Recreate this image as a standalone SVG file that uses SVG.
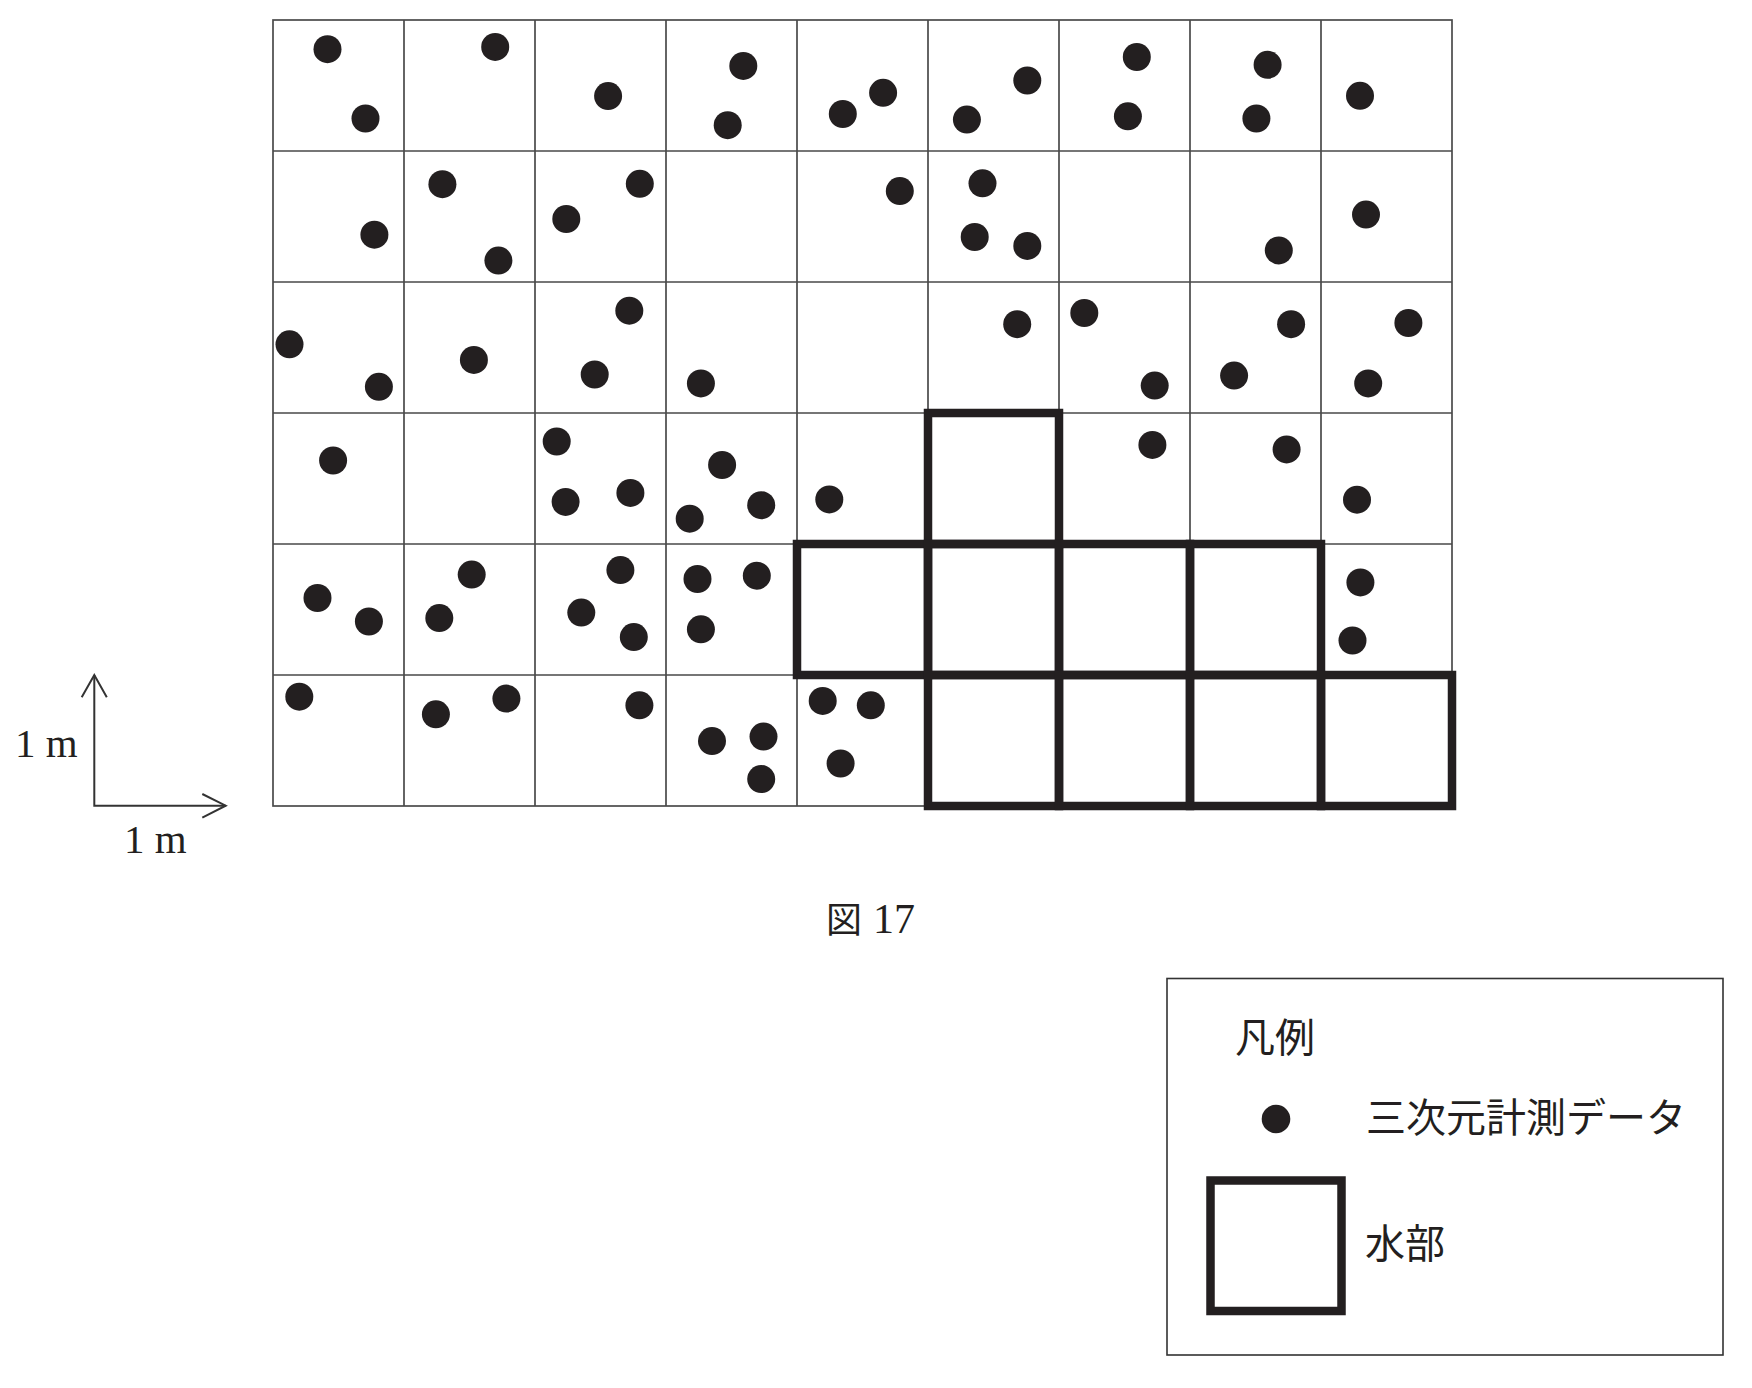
<svg xmlns="http://www.w3.org/2000/svg" width="1752" height="1388" viewBox="0 0 1752 1388">
<style>
.grid{stroke:#4a4a4a;stroke-width:1.7;fill:none}
.water{stroke:#231f20;stroke-width:8.5;fill:none;stroke-linejoin:miter}
.dot{fill:#231f20}
.axis{stroke:#333;stroke-width:2;fill:none}
.serif{font-family:"Liberation Serif","Noto Sans CJK JP",serif;fill:#231f20}
.cjk{font-family:"Noto Sans CJK JP",sans-serif;fill:#231f20;font-size:40px}
</style>
<rect width="1752" height="1388" fill="#fff"/>
<g id="grid" class="grid">
<rect x="273" y="20" width="1179" height="786"/>
<path d="M404 20V806M535 20V806M666 20V806M797 20V806M928 20V806M1059 20V806M1190 20V806M1321 20V806"/>
<path d="M273 151H1452M273 282H1452M273 413H1452M273 544H1452M273 675H1452"/>
</g>
<g id="water-cells" class="water">
<rect x="928" y="413" width="131" height="131"/>
<rect x="797" y="544" width="131" height="131"/>
<rect x="928" y="544" width="131" height="131"/>
<rect x="1059" y="544" width="131" height="131"/>
<rect x="1190" y="544" width="131" height="131"/>
<rect x="928" y="675" width="131" height="131"/>
<rect x="1059" y="675" width="131" height="131"/>
<rect x="1190" y="675" width="131" height="131"/>
<rect x="1321" y="675" width="131" height="131"/>
</g>
<g id="points" class="dot">
<circle cx="327.5" cy="49.2" r="14"/><circle cx="365.5" cy="118.5" r="14"/><circle cx="495.2" cy="46.9" r="14"/><circle cx="608.1" cy="96.1" r="14"/><circle cx="743.3" cy="65.9" r="14"/><circle cx="727.7" cy="125.2" r="14"/><circle cx="842.8" cy="114" r="14"/><circle cx="883.1" cy="92.8" r="14"/><circle cx="966.9" cy="119.6" r="14"/><circle cx="1027.3" cy="80.5" r="14"/><circle cx="1136.8" cy="57" r="14"/><circle cx="1127.9" cy="116.3" r="14"/><circle cx="1267.6" cy="64.8" r="14"/><circle cx="1256.4" cy="118.5" r="14"/><circle cx="1360" cy="95.8" r="14"/>
<circle cx="374.4" cy="234.7" r="14"/><circle cx="442.4" cy="184.2" r="14"/><circle cx="498.4" cy="260.6" r="14"/><circle cx="639.8" cy="183.8" r="14"/><circle cx="566.3" cy="219" r="14"/><circle cx="899.8" cy="191.1" r="14"/><circle cx="982.5" cy="183.3" r="14"/><circle cx="974.7" cy="237" r="14"/><circle cx="1027.3" cy="245.9" r="14"/><circle cx="1278.8" cy="250.4" r="14"/><circle cx="1366" cy="214.6" r="14"/>
<circle cx="289.5" cy="344.3" r="14"/><circle cx="378.9" cy="386.8" r="14"/><circle cx="473.9" cy="359.9" r="14"/><circle cx="629.3" cy="310.7" r="14"/><circle cx="594.7" cy="374.5" r="14"/><circle cx="700.9" cy="383.4" r="14"/><circle cx="1017.2" cy="324.2" r="14"/><circle cx="1084.3" cy="313" r="14"/><circle cx="1154.7" cy="385.6" r="14"/><circle cx="1291.1" cy="324.2" r="14"/><circle cx="1234.1" cy="375.6" r="14"/><circle cx="1408.4" cy="323" r="14"/><circle cx="1368.2" cy="383.4" r="14"/>
<circle cx="333.1" cy="460.5" r="14"/><circle cx="556.7" cy="441.5" r="14"/><circle cx="565.6" cy="501.9" r="14"/><circle cx="630.4" cy="492.9" r="14"/><circle cx="722.1" cy="465" r="14"/><circle cx="689.7" cy="518.7" r="14"/><circle cx="761.2" cy="505.2" r="14"/><circle cx="829.3" cy="499.4" r="14"/><circle cx="1152.4" cy="444.9" r="14"/><circle cx="1286.6" cy="449.4" r="14"/><circle cx="1357" cy="499.7" r="14"/>
<circle cx="317.5" cy="598" r="14"/><circle cx="368.9" cy="621.5" r="14"/><circle cx="471.7" cy="574.6" r="14"/><circle cx="439.3" cy="618.1" r="14"/><circle cx="620.4" cy="570.1" r="14"/><circle cx="581.3" cy="612.6" r="14"/><circle cx="633.8" cy="637.1" r="14"/><circle cx="697.5" cy="579" r="14"/><circle cx="756.8" cy="575.7" r="14"/><circle cx="700.9" cy="629.3" r="14"/><circle cx="1360.4" cy="582.4" r="14"/><circle cx="1352.5" cy="640.5" r="14"/>
<circle cx="299.3" cy="696.7" r="14"/><circle cx="435.9" cy="714.3" r="14"/><circle cx="506.4" cy="698.6" r="14"/><circle cx="639.4" cy="705.3" r="14"/><circle cx="712" cy="741.1" r="14"/><circle cx="763.5" cy="736.6" r="14"/><circle cx="761.2" cy="779.1" r="14"/><circle cx="822.7" cy="700.9" r="14"/><circle cx="870.8" cy="705.3" r="14"/><circle cx="840.6" cy="763.5" r="14"/>
</g>
<g id="scale-axes" class="axis">
<path d="M94.3 675V805.7H225.7"/>
<path d="M81.7 697.3L94.3 675L106.8 697.3"/>
<path d="M202.3 794L225.7 805.7L202.3 817.7"/>
</g>
<g id="scale-labels" class="serif" font-size="41">
<text x="15" y="757">1 m</text>
<text x="124" y="853">1 m</text>
</g>
<g id="caption">
<text class="serif" font-size="42" x="826" y="933"><tspan font-family="Noto Sans CJK JP, sans-serif" font-size="36">図</tspan><tspan x="873">17</tspan></text>
</g>
<g id="legend">
<rect x="1167" y="978.5" width="556" height="376.5" fill="none" stroke="#333" stroke-width="1.6"/>
<text class="cjk" x="1235" y="1052">凡例</text>
<circle class="dot" cx="1276" cy="1119" r="14.3"/>
<text class="cjk" x="1366" y="1132">三次元計測データ</text>
<rect class="water" x="1210.5" y="1180.5" width="131" height="130.5"/>
<text class="cjk" x="1365" y="1258">水部</text>
</g>
</svg>
